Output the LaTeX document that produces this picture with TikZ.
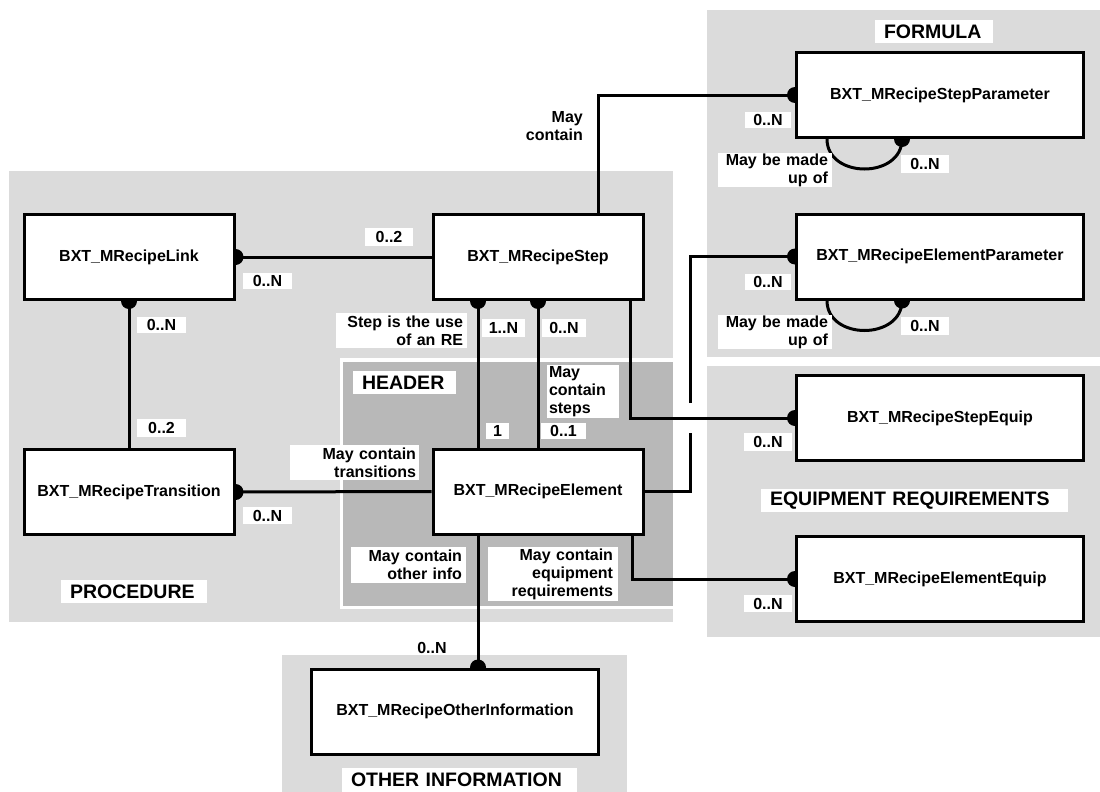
\documentclass[tikz,border=0pt]{standalone}
\usepackage{fontspec}
\setmainfont{Liberation Sans}
\usetikzlibrary{calc}
\pgfdeclarelayer{regions}
\pgfdeclarelayer{links}
\pgfsetlayers{regions,links,main}
\definecolor{zoneLight}{gray}{0.86}
\definecolor{zoneDark}{gray}{0.72}

\tikzset{
  ent/.style={draw, line width=3pt, fill=white, inner sep=0pt,
    font=\fontsize{16}{18}\selectfont\bfseries},
  entL/.style={ent, minimum width=210pt, minimum height=85pt},
  entR/.style={ent, minimum width=287pt, minimum height=85pt},
  rel/.style={line width=3pt},
  card/.style={fill=white, inner sep=0pt, font=\fontsize{16}{18}\selectfont\bfseries},
  note/.style={fill=white, inner xsep=4pt, inner ysep=0pt,
    font=\fontsize{16}{18}\selectfont\bfseries},
  zonetitle/.style={fill=white, inner xsep=9pt, inner ysep=0pt, align=left,
    font=\fontsize{19.5}{22}\selectfont\bfseries},
}

\begin{document}
\begin{tikzpicture}[x=1pt,y=-1pt]
\useasboundingbox (0,0) rectangle (1100,792);

% shaded zones
\begin{pgfonlayer}{regions}
  \fill[zoneLight] (9,171) rectangle (673,622);     % procedure
  \fill[white] (340,358) rectangle (673,609);
  \fill[zoneDark] (343,362) rectangle (673,606);    % header
  \fill[zoneLight] (707,10) rectangle (1100,357);   % formula
  \fill[zoneLight] (707,366) rectangle (1100,637);  % equipment
  \fill[zoneLight] (282,655) rectangle (627,792);   % other information
\end{pgfonlayer}

% entities
\node[entL] (link)   at (129,257)   {BXT\_MRecipeLink};
\node[entL] (step)   at (538,257)   {BXT\_MRecipeStep};
\node[entL] (trans)  at (129,492)   {BXT\_MRecipeTransition};
\node[entL] (elem)   at (538,491.5) {BXT\_MRecipeElement};
\node[entR] (sparam) at (940,95)    {BXT\_MRecipeStepParameter};
\node[entR] (eparam) at (940,256.5) {BXT\_MRecipeElementParameter};
\node[entR] (sequip) at (940,418)   {BXT\_MRecipeStepEquip};
\node[entR] (eequip) at (940,579)   {BXT\_MRecipeElementEquip};
\node[entR] (other)  at (455,711.5) {BXT\_MRecipeOtherInformation};

% relationships
\begin{pgfonlayer}{links}
  \coordinate (stepUse)  at ([xshift=-60pt]step.south);
  \coordinate (elemUse)  at ([xshift=-60pt]elem.north);
  \coordinate (stepUp)   at ([xshift=60pt]step.north);
  \coordinate (stepDown) at ([xshift=92pt]step.south);
  \coordinate (elemEq)   at ([xshift=94pt]elem.south);
  \coordinate (elemInfo) at ([xshift=-60pt]elem.south);
  \coordinate (infoTop)  at (elemInfo |- other.north);
  \coordinate (jumpLo)   at (690,433);
  \coordinate (jumpHi)   at (690,403);
  \coordinate (spLoopA)  at ([xshift=-113pt]sparam.south);
  \coordinate (spLoopB)  at ([xshift=-38pt]sparam.south);
  \coordinate (epLoopA)  at ([xshift=-113pt]eparam.south);
  \coordinate (epLoopB)  at ([xshift=-38pt]eparam.south);

  \draw[rel] (link.east) -- (step.west);
  \fill (link.east) circle (8pt);
  \draw[rel] (link.south) -- (trans.north);
  \fill (link.south) circle (8pt);
  \draw[rel] (trans.east) -- (elem.west);
  \fill (trans.east) circle (8pt);
  \draw[rel] (stepUse) -- (elemUse);
  \fill (stepUse) circle (8pt);
  \draw[rel] (step.south) -- (elem.north);
  \fill (step.south) circle (8pt);
  \draw[rel] (stepUp) |- (sparam.west);
  \fill (sparam.west) circle (8pt);
  \draw[rel] (stepDown) |- (sequip.west);
  \fill (sequip.west) circle (8pt);
  \draw[rel] (elem.east) -| (jumpLo);
  \draw[rel] (jumpHi) |- (eparam.west);
  \fill (eparam.west) circle (8pt);
  \draw[rel] (elemEq) |- (eequip.west);
  \fill (eequip.west) circle (8pt);
  \draw[rel] (elemInfo) -- (infoTop);
  \fill (infoTop) circle (8pt);
  \draw[rel] (spLoopA) .. controls +(0,40) and +(0,40) .. (spLoopB);
  \fill (spLoopB) circle (8pt);
  \draw[rel] (epLoopA) .. controls +(0,40) and +(0,40) .. (epLoopB);
  \fill (epLoopB) circle (8pt);
\end{pgfonlayer}

% cardinalities
\node[card, minimum width=48pt, minimum height=18pt] (c1) at (389,237)     {0..2};
\node[card, minimum width=49pt, minimum height=16pt] (c2) at (267.5,281)   {0..N};
\node[card, minimum width=49pt, minimum height=16pt] (c3) at (161.5,325)   {0..N};
\node[card, minimum width=49pt, minimum height=18pt] (c4) at (161.5,428)   {0..2};
\node[card, minimum width=49pt, minimum height=17pt] (c5) at (267.5,515.5) {0..N};
\node[card, minimum width=43pt, minimum height=18pt] (c6) at (503.5,328)   {1..N};
\node[card, minimum width=44pt, minimum height=18pt] (c7) at (564,328)     {0..N};
\node[card, minimum width=23pt, minimum height=16pt] (c8) at (497.5,431)   {1};
\node[card, minimum width=45pt, minimum height=16pt] (c9) at (563.5,431)   {0..1};
\node[card, minimum width=46pt, minimum height=16pt] (c10) at (768,120)    {0..N};
\node[card, minimum width=48pt, minimum height=18pt] (c11) at (925,164)    {0..N};
\node[card, minimum width=46pt, minimum height=16pt] (c12) at (768,282)    {0..N};
\node[card, minimum width=48pt, minimum height=18pt] (c13) at (925,326)    {0..N};
\node[card, minimum width=48pt, minimum height=18pt] (c14) at (768,442)    {0..N};
\node[card, minimum width=48pt, minimum height=17pt] (c15) at (768,603.5)  {0..N};
\node[card, fill=none] (c16) at (432,648) {0..N};

% relationship notes
\node[note, fill=none, align=right, anchor=east] (n1) at (587,126) {May\\contain};
\node[note, align=right, text width=123pt, minimum height=35pt] (n2) at (401.5,330.5) {Step is the use\\of an RE};
\node[note, align=left, inner xsep=2pt, text width=68pt, minimum height=53pt] (n3) at (583,391.5) {May\\contain\\steps};
\node[note, align=right, inner xsep=3pt, text width=123pt, minimum height=35pt] (n4) at (354.5,462.5) {May contain\\transitions};
\node[note, align=right, text width=107pt, minimum height=36pt] (n5) at (408.5,565) {May contain\\other info};
\node[note, align=right, inner xsep=5pt, text width=120pt, minimum height=54pt] (n6) at (553,574) {May contain\\equipment\\requirements};
\node[note, align=right, text width=106pt, minimum height=34pt] (n7) at (775,170) {May be made\\up of};
\node[note, align=right, text width=106pt, minimum height=34pt] (n8) at (775,332) {May be made\\up of};

% zone titles
\node[zonetitle, text width=100pt, minimum height=23pt] (t1) at (934,31.5)    {FORMULA};
\node[zonetitle, text width=85pt,  minimum height=23pt] (t2) at (404.5,382.5) {HEADER};
\node[zonetitle, text width=128pt, minimum height=23pt] (t3) at (134,591.5)   {PROCEDURE};
\node[zonetitle, text width=289pt, minimum height=23pt] (t4) at (914.5,500.5) {EQUIPMENT REQUIREMENTS};
\node[zonetitle, text width=217pt, minimum height=25pt] (t5) at (459.5,780)   {OTHER INFORMATION};
\end{tikzpicture}
\end{document}
